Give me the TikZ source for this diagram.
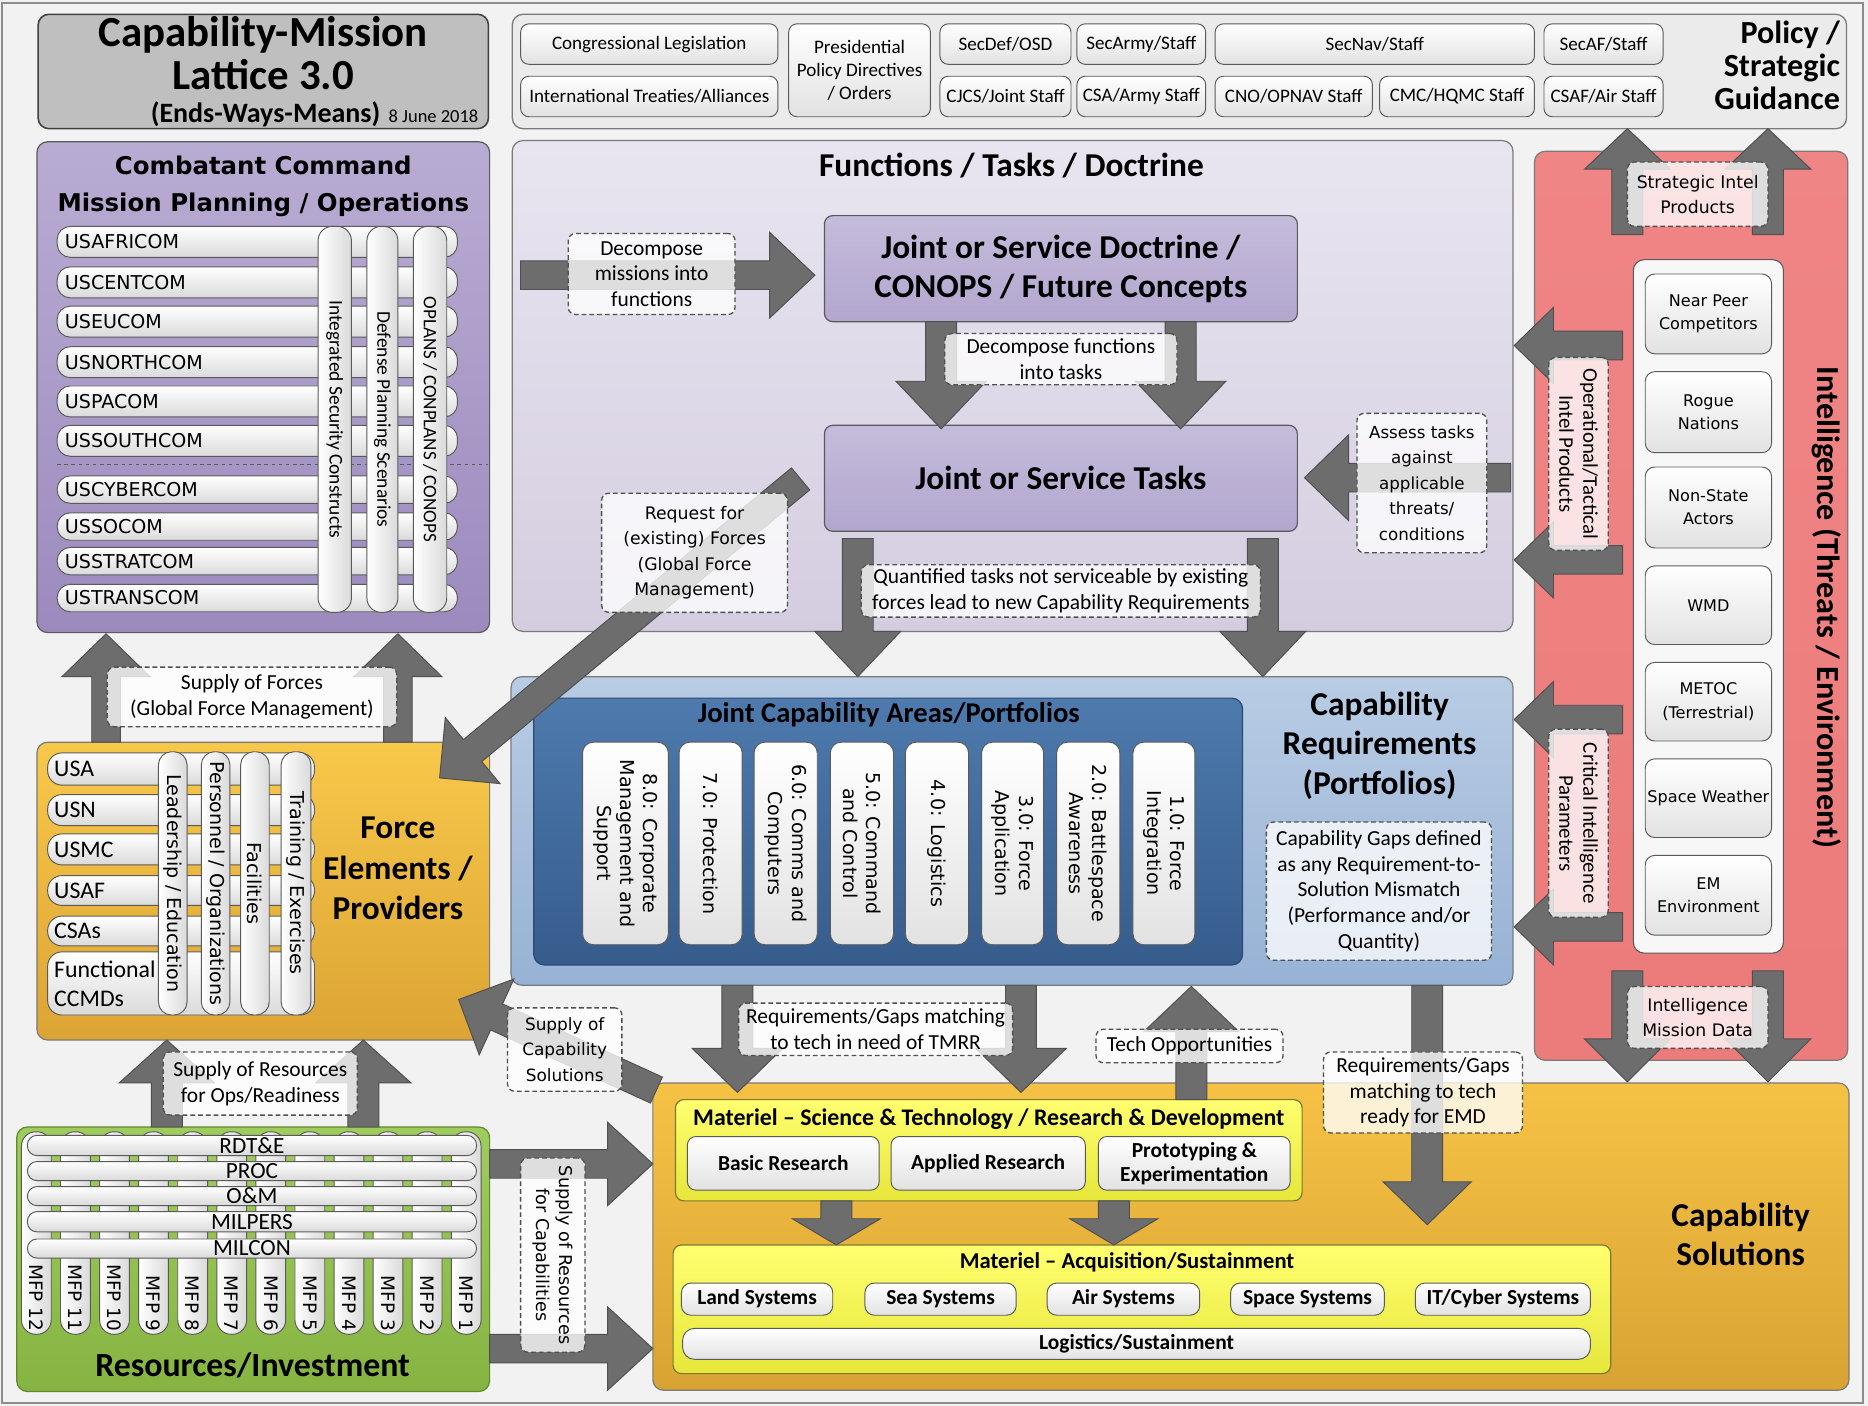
\documentclass[tikz,border=0pt]{standalone}
\usepackage{fontspec}
\setmainfont{Carlito}
\newfontfamily\vfont{DejaVu Sans}
\usetikzlibrary{calc}
\definecolor{bgc}{HTML}{F2F2F2}
\definecolor{framec}{HTML}{8C8C8C}
\definecolor{dk}{HTML}{404040}
\definecolor{bordgray}{HTML}{5A5A5A}
\definecolor{midgray}{HTML}{7A7A7A}
\definecolor{titlefill}{HTML}{BFBFBF}
\definecolor{policyfill}{HTML}{EBEBEB}
\definecolor{wbot}{HTML}{E2E2E2}
\definecolor{pbot}{HTML}{DADADA}
\definecolor{ccTop}{HTML}{B9ACD3}
\definecolor{ccBot}{HTML}{9C8ABE}
\definecolor{fnTop}{HTML}{E9E5F0}
\definecolor{fnBot}{HTML}{D4CDE0}
\definecolor{docTop}{HTML}{C5BCDB}
\definecolor{docBot}{HTML}{B2A6CE}
\definecolor{redTop}{HTML}{F08585}
\definecolor{redBot}{HTML}{EC7B7B}
\definecolor{innerc}{HTML}{F7F7F7}
\definecolor{blueTop}{HTML}{B8CCE4}
\definecolor{blueBot}{HTML}{97B2D5}
\definecolor{jcaTop}{HTML}{4E7AAD}
\definecolor{jcaBot}{HTML}{365C8C}
\definecolor{jcaBord}{HTML}{2C4A70}
\definecolor{forceTop}{HTML}{F8C84A}
\definecolor{forceBot}{HTML}{DCA434}
\definecolor{greenTop}{HTML}{9FCC5C}
\definecolor{greenBot}{HTML}{86B443}
\definecolor{greenBord}{HTML}{5E8A2A}
\definecolor{csTop}{HTML}{F6C245}
\definecolor{csBot}{HTML}{D9A333}
\definecolor{yelTop}{HTML}{FFFF70}
\definecolor{yelBot}{HTML}{E6E63A}
\definecolor{yelBord}{HTML}{7A7A30}
\definecolor{arrowgray}{HTML}{6D6D6D}
\definecolor{arrowdark}{HTML}{4F4F4F}
\definecolor{lblgray}{HTML}{505050}

\newcommand\fs[2]{\fontsize{#1}{#2}\selectfont}
% box from (x1,y1) to (x2,y2)
\newcommand\bx[7]{%
  \pgfmathsetmacro\bxw{(#4)-(#2)}%
  \pgfmathsetmacro\bxh{(#5)-(#3)}%
  \pgfmathsetmacro\bxx{((#2)+(#4))/2}%
  \pgfmathsetmacro\bxy{((#3)+(#5))/2}%
  \node[#6,minimum width=\bxw pt,minimum height=\bxh pt] (#1) at (\bxx,\bxy) {#7};}
% block arrow: tail, tip, shaft half width, head half width, head length
\newcommand\barrow[5]{%
  \coordinate (bahb) at ($(#2)!#5!(#1)$);
  \draw[blockarrow] ($(#1)!#3!90:(#2)$) -- ($(bahb)!#3!90:(#2)$) -- ($(bahb)!#4!90:(#2)$) -- (#2)
    -- ($(bahb)!#4!-90:(#2)$) -- ($(bahb)!#3!-90:(#2)$) -- ($(#1)!#3!-90:(#2)$) -- cycle;}

\tikzset{
  base/.style={inner sep=0pt,outer sep=0pt,align=center},
  wbox/.style={base,rounded corners=7pt,draw=bordgray,line width=0.8pt,top color=white,bottom color=wbot},
  pill/.style={base,rounded corners=#1,draw=bordgray,line width=0.8pt,top color=white,bottom color=pbot},
  vpill/.style={base,rounded corners=#1,draw=bordgray,line width=0.8pt,left color=white,right color=pbot},
  bigbox/.style 2 args={base,rounded corners=9pt,draw=bordgray,line width=1pt,top color=#1,bottom color=#2},
  lbl/.style={base,rounded corners=6pt,draw=lblgray,line width=1.1pt,dash pattern=on 4pt off 2.5pt,fill=white,fill opacity=0.78,text opacity=1,font=\fs{18}{21.5}},
  blockarrow/.style={fill=arrowgray,draw=arrowdark,line width=0.8pt,line join=miter},
}
\newcommand\jcol[4]{\bx{#1}{#2}{623}{#3}{793}{wbox,rounded corners=9pt}{}%
  \node[rotate=-90,font=\vfont\fs{16}{19.5},align=center] (#1t) at (#1.center) {#4};}
\newcommand\intel[4]{\bx{#1}{1381}{#2}{1487}{#3}{wbox,rounded corners=8pt,font=\vfont\fs{13.5}{19.5}}{#4}}
\newcommand\acqitem[4]{\bx{#1}{#2}{1077}{#3}{1104}{wbox,rounded corners=8pt,font=\bfseries\fs{18}{20}}{#4}}

\begin{document}
\begin{tikzpicture}[x=1pt,y=-1pt]
\useasboundingbox (0,0) rectangle (1568,1180);
\fill[bgc] (0,0) rectangle (1568,1180);
\draw[framec,line width=1.5pt] (1.5,2.5) rectangle (1564,1177.5);

% ================= Title
\bx{title}{32}{12}{410}{108}{base,rounded corners=9pt,draw=dk,line width=1.3pt,fill=titlefill}{}
\node[font=\bfseries\fs{36}{40}] (ttl1) at (221,29) {Capability-Mission};
\node[font=\bfseries\fs{36}{40}] (ttl2) at (221,63) {Lattice 3.0};
\node (ttl3) at (264,96) {{\bfseries\fs{23.5}{28}(Ends-Ways-Means)}\hspace{7pt}{\fs{15.5}{18}8 June 2018}};

% ================= Policy
\bx{policy}{430}{12}{1550}{108}{base,rounded corners=9pt,draw=midgray,line width=1.1pt,fill=policyfill}{}
\bx{pCong}{437}{20}{653}{54}{wbox,font=\fs{16}{17}}{Congressional Legislation}
\bx{pIntl}{437}{64}{653}{98}{wbox,font=\fs{16}{17}}{International Treaties/Alliances}
\bx{pPres}{662}{20}{781}{98}{wbox,font=\fs{16}{19.5}}{Presidential\\Policy Directives\\/ Orders}
\bx{pSecDef}{789}{20}{899}{54}{wbox,font=\fs{16}{17}}{SecDef/OSD}
\bx{pCJCS}{789}{64}{899}{98}{wbox,font=\fs{16}{17}}{CJCS/Joint Staff}
\bx{pSecA}{904}{20}{1012}{54}{wbox,font=\fs{16}{17}}{SecArmy/Staff}
\bx{pCSA}{904}{64}{1012}{98}{wbox,font=\fs{16}{17}}{CSA/Army Staff}
\bx{pSecN}{1020}{20}{1288}{54}{wbox,font=\fs{16}{17}}{SecNav/Staff}
\bx{pCNO}{1020}{64}{1152}{98}{wbox,font=\fs{16}{17}}{CNO/OPNAV Staff}
\bx{pCMC}{1158}{64}{1288}{98}{wbox,font=\fs{16}{17}}{CMC/HQMC Staff}
\bx{pSecAF}{1296}{20}{1396}{54}{wbox,font=\fs{16}{17}}{SecAF/Staff}
\bx{pCSAF}{1296}{64}{1396}{98}{wbox,font=\fs{16}{17}}{CSAF/Air Staff}
\node[anchor=east,align=right,font=\bfseries\fs{27}{27.5}] (polT) at (1548,55) {Policy /\\Strategic\\Guidance};

% ================= Combatant Command
\bx{cc}{31}{119}{411}{531}{bigbox={ccTop}{ccBot}}{}
\node[font=\vfont\bfseries\fs{20.5}{24}] (ccT1) at (221,139) {Combatant Command};
\node[font=\vfont\bfseries\fs{20.5}{24}] (ccT2) at (221,172) {Mission Planning / Operations};
\foreach \nm/\yc/\hh [count=\i] in {USAFRICOM/203/26,USCENTCOM/237/26,USEUCOM/270/26,USNORTHCOM/304/26,USPACOM/337/26,USSOUTHCOM/370/26,USCYBERCOM/411/23,USSOCOM/442/23,USSTRATCOM/471/23,USTRANSCOM/502/23}{
  \bx{ccr\i}{48}{\yc-\hh/2}{384}{\yc+\hh/2}{pill=11pt}{}
  \node[anchor=west,font=\vfont\fs{16}{18}] (ccn\i) at (51,\yc) {\nm};
}
\draw[bordgray,dashed,line width=0.8pt] (48,390) -- (410,390);
\bx{ccv1}{267}{190}{295}{514}{vpill=12pt}{}
\node[rotate=-90,font=\fs{16.3}{18}] (ccv1t) at (ccv1.center) {Integrated Security Constructs};
\bx{ccv2}{308}{190}{334}{514}{vpill=12pt}{}
\node[rotate=-90,font=\fs{16.3}{18}] (ccv2t) at (ccv2.center) {Defense Planning Scenarios};
\bx{ccv3}{347}{190}{375}{514}{vpill=12pt}{}
\node[rotate=-90,font=\fs{16}{18}] (ccv3t) at (ccv3.center) {OPLANS / CONPLANS / CONOPS};

% ================= Functions / Tasks / Doctrine
\bx{fn}{430}{118}{1270}{530}{bigbox={fnTop}{fnBot},draw=midgray}{}
\node[font=\bfseries\fs{28}{30}] (fnT) at (849,139) {Functions / Tasks / Doctrine};
\bx{doc}{692}{181}{1089}{270}{bigbox={docTop}{docBot},rounded corners=7pt,font=\bfseries\fs{28}{33}}{Joint or Service Doctrine /\\CONOPS / Future Concepts}
\bx{task}{692}{357}{1089}{446}{bigbox={docTop}{docBot},rounded corners=7pt,font=\bfseries\fs{28}{30}}{Joint or Service Tasks}

% ================= Intelligence
\bx{red}{1288}{127}{1551}{890}{bigbox={redTop}{redBot},draw=midgray}{}
\bx{redin}{1371}{218}{1497}{800}{base,rounded corners=9pt,draw=bordgray,line width=0.9pt,fill=innerc}{}
\intel{iNP}{230}{297}{Near Peer\\Competitors}
\intel{iRN}{312}{380}{Rogue\\Nations}
\intel{iNS}{392}{460}{Non-State\\Actors}
\intel{iWMD}{475}{541}{WMD}
\intel{iMET}{556}{622}{METOC\\(Terrestrial)}
\intel{iSW}{637}{703}{Space Weather}
\intel{iEM}{718}{785}{EM\\Environment}
\node[rotate=-90,font=\bfseries\fs{27}{30}] (redT) at (1533,510) {Intelligence (Threats / Environment)};

% ================= Capability Requirements
\bx{cr}{429}{568}{1270}{827}{bigbox={blueTop}{blueBot},draw=midgray}{}
\bx{jca}{448}{586}{1043}{810}{bigbox={jcaTop}{jcaBot},draw=jcaBord}{}
\node[font=\bfseries\fs{24}{26}] (jcaT) at (746,600) {Joint Capability Areas/Portfolios};
\jcol{j8}{489}{561}{8.0: Corporate\\Management and\\Support}
\jcol{j7}{570}{623}{7.0: Protection}
\jcol{j6}{633}{686}{6.0: Comms and\\Computers}
\jcol{j5}{697}{750}{5.0: Command\\and Control}
\jcol{j4}{760}{813}{4.0: Logistics}
\jcol{j3}{824}{876}{3.0: Force\\Application}
\jcol{j2}{887}{940}{2.0: Battlespace\\Awareness}
\jcol{j1}{951}{1003}{1.0: Force\\Integration}
\node[font=\bfseries\fs{28}{33},align=center] (crT) at (1158,626) {Capability\\Requirements\\(Portfolios)};

% ================= Force Elements
\bx{fe}{31}{623}{411}{873}{bigbox={forceTop}{forceBot},draw=midgray}{}
\foreach \nm/\ya/\yb [count=\i] in {USA/632/659,USN/667/693,USMC/700/726,USAF/735/760,CSAs/769/794}{
  \bx{fer\i}{40}{\ya}{264}{\yb}{pill=12pt}{}
  \node[anchor=west,font=\fs{20}{22}] (fen\i) at (42,{(\ya+\yb)/2}) {\nm};
}
\bx{fer6}{40}{799}{264}{852}{pill=12pt}{}
\node[anchor=west,align=left,font=\fs{20}{24}] (fen6) at (42,826) {Functional\\CCMDs};
\bx{fev1}{133}{631}{157}{852}{vpill=11pt}{}
\node[rotate=-90,font=\vfont\fs{16}{18}] (fev1t) at (fev1.center) {Leadership / Education};
\bx{fev2}{169}{631}{193}{852}{vpill=11pt}{}
\node[rotate=-90,font=\vfont\fs{16}{18}] (fev2t) at (fev2.center) {Personnel / Organizations};
\bx{fev3}{202}{631}{226}{852}{vpill=11pt}{}
\node[rotate=-90,font=\vfont\fs{16}{18}] (fev3t) at (fev3.center) {Facilities};
\bx{fev4}{236}{631}{261}{852}{vpill=11pt}{}
\node[rotate=-90,font=\vfont\fs{16}{18}] (fev4t) at (fev4.center) {Training / Exercises};
\node[font=\bfseries\fs{28}{34},align=center] (feT) at (334,729) {Force\\Elements /\\Providers};

% ================= Resources / Investment
\bx{ri}{14}{946}{411}{1168}{bigbox={greenTop}{greenBot},draw=greenBord}{}
\foreach \i in {0,...,11}{
  \pgfmathsetmacro\xl{18+32.8*\i}
  \pgfmathtruncatemacro\mm{12-\i}
  \bx{mfp\i}{\xl}{950}{\xl+25}{1120}{vpill=12pt}{}
  \node[rotate=-90,anchor=east,font=\vfont\fs{15.5}{16}] (mfpt\i) at (\xl+12.5,1121) {MFP \mm};
}
\foreach \nm/\ya/\yb [count=\i] in {RDT\&E/953/970,PROC/975/991,O\&M/996/1012,MILPERS/1017/1034,MILCON/1040/1056}{
  \bx{rir\i}{23}{\ya}{400}{\yb}{pill=8pt,font=\fs{19.5}{18}}{\nm}
}
\node[font=\bfseries\fs{28.4}{30}] (riT) at (212,1146) {Resources/Investment};

% ================= Capability Solutions
\bx{cs}{548}{909}{1552}{1167}{bigbox={csTop}{csBot},draw=midgray}{}
\node[font=\bfseries\fs{28}{33},align=center] (csT) at (1461,1036) {Capability\\Solutions};
\bx{st}{567}{923}{1093}{1008}{bigbox={yelTop}{yelBot},rounded corners=7pt,draw=yelBord}{}
\node[font=\bfseries\fs{20}{20}] (stT) at (830,939) {Materiel – Science \& Technology / Research \& Development};
\bx{stB}{577}{954}{738}{999}{wbox,font=\bfseries\fs{18}{20}}{Basic Research}
\bx{stA}{748}{954}{911}{999}{wbox,font=\bfseries\fs{18}{20}}{Applied Research}
\bx{stP}{922}{954}{1083}{999}{wbox,font=\bfseries\fs{18}{20}}{Prototyping \&\\Experimentation}
\bx{acq}{565}{1045}{1352}{1153}{bigbox={yelTop}{yelBot},rounded corners=7pt,draw=yelBord}{}
\node[font=\bfseries\fs{19}{20}] (acqT) at (946,1060) {Materiel – Acquisition/Sustainment};
\acqitem{aLand}{572}{699}{Land Systems}
\acqitem{aSea}{726}{853}{Sea Systems}
\acqitem{aAir}{879}{1007}{Air Systems}
\acqitem{aSpace}{1033}{1162}{Space Systems}
\acqitem{aIT}{1188}{1335}{IT/Cyber Systems}
\bx{aLog}{573}{1115}{1335}{1141}{wbox,rounded corners=10pt,font=\bfseries\fs{18}{19}}{Logistics/Sustainment}

% ================= Block arrows
\coordinate (aDMt) at (437,231); \coordinate (aDMh) at (684,231);
\barrow{aDMt}{aDMh}{12pt}{36pt}{38pt}
\coordinate (aDF1t) at (790,270); \coordinate (aDF1h) at (790,360);
\coordinate (aDF2t) at (991,270); \coordinate (aDF2h) at (991,360);
\barrow{aDF1t}{aDF1h}{13pt}{38pt}{40pt}
\barrow{aDF2t}{aDF2h}{13pt}{38pt}{40pt}
\coordinate (aQT1t) at (720,452); \coordinate (aQT1h) at (720,568);
\coordinate (aQT2t) at (1060,452); \coordinate (aQT2h) at (1060,568);
\barrow{aQT1t}{aQT1h}{13pt}{36pt}{38pt}
\barrow{aQT2t}{aQT2h}{13pt}{36pt}{38pt}
\coordinate (aRFt) at (672,402); \coordinate (aRFh) at (369,653);
\barrow{aRFt}{aRFh}{12pt}{36pt}{36pt}
\coordinate (aSF1t) at (89,623); \coordinate (aSF1h) at (89,532);
\coordinate (aSF2t) at (334,623); \coordinate (aSF2h) at (334,532);
\barrow{aSF1t}{aSF1h}{12pt}{37pt}{36pt}
\barrow{aSF2t}{aSF2h}{12pt}{37pt}{36pt}
\coordinate (aSR1t) at (140,946); \coordinate (aSR1h) at (140,873);
\coordinate (aSR2t) at (305,946); \coordinate (aSR2h) at (305,873);
\barrow{aSR1t}{aSR1h}{13pt}{40pt}{36pt}
\barrow{aSR2t}{aSR2h}{13pt}{40pt}{36pt}
\coordinate (aRC1t) at (411,977); \coordinate (aRC1h) at (548,977);
\coordinate (aRC2t) at (411,1132); \coordinate (aRC2h) at (548,1132);
\barrow{aRC1t}{aRC1h}{12pt}{35pt}{38pt}
\barrow{aRC2t}{aRC2h}{12pt}{35pt}{38pt}
\coordinate (aSCt) at (551,915); \coordinate (aSCh) at (385,839);
\barrow{aSCt}{aSCh}{12pt}{35pt}{35pt}
\coordinate (aTM1t) at (619,827); \coordinate (aTM1h) at (619,917);
\coordinate (aTM2t) at (857,827); \coordinate (aTM2h) at (857,917);
\barrow{aTM1t}{aTM1h}{13pt}{38pt}{37pt}
\barrow{aTM2t}{aTM2h}{13pt}{38pt}{37pt}
\coordinate (aTOt) at (1000,923); \coordinate (aTOh) at (1000,828);
\barrow{aTOt}{aTOh}{13pt}{40pt}{38pt}
\coordinate (aEMt) at (1198,827); \coordinate (aEMh) at (1198,1028);
\barrow{aEMt}{aEMh}{13pt}{37pt}{36pt}
\coordinate (aSA1t) at (702,1008); \coordinate (aSA1h) at (702,1045);
\coordinate (aSA2t) at (935,1008); \coordinate (aSA2h) at (935,1045);
\barrow{aSA1t}{aSA1h}{13pt}{37pt}{22pt}
\barrow{aSA2t}{aSA2h}{13pt}{37pt}{22pt}
\coordinate (aATt) at (1268,401); \coordinate (aATh) at (1095,401);
\barrow{aATt}{aATh}{12pt}{36pt}{37pt}
\coordinate (aOp1t) at (1362,290); \coordinate (aOp1h) at (1271,290);
\coordinate (aOp2t) at (1362,470); \coordinate (aOp2h) at (1271,470);
\barrow{aOp1t}{aOp1h}{12pt}{32pt}{33pt}
\barrow{aOp2t}{aOp2h}{12pt}{32pt}{33pt}
\coordinate (aCr1t) at (1362,604); \coordinate (aCr1h) at (1271,604);
\coordinate (aCr2t) at (1362,778); \coordinate (aCr2h) at (1271,778);
\barrow{aCr1t}{aCr1h}{12pt}{32pt}{33pt}
\barrow{aCr2t}{aCr2h}{12pt}{32pt}{33pt}
\coordinate (aSI1t) at (1366,197); \coordinate (aSI1h) at (1366,108);
\coordinate (aSI2t) at (1484,197); \coordinate (aSI2h) at (1484,108);
\barrow{aSI1t}{aSI1h}{13pt}{36pt}{34pt}
\barrow{aSI2t}{aSI2h}{13pt}{36pt}{34pt}
\coordinate (aIM1t) at (1366,815); \coordinate (aIM1h) at (1366,908);
\coordinate (aIM2t) at (1484,815); \coordinate (aIM2h) at (1484,908);
\barrow{aIM1t}{aIM1h}{13pt}{36pt}{36pt}
\barrow{aIM2t}{aIM2h}{13pt}{36pt}{36pt}

% ================= Labels
\bx{lDM}{477}{196}{617}{264}{lbl}{Decompose\\missions into\\functions}
\bx{lDF}{793}{280}{988}{323}{lbl}{Decompose functions\\into tasks}
\bx{lQT}{723}{474}{1058}{518}{lbl}{Quantified tasks not serviceable by existing\\forces lead to new Capability Requirements}
\bx{lRF}{505}{414}{661}{514}{lbl,font=\vfont\fs{14.5}{21.5}}{Request for\\(existing) Forces\\(Global Force\\Management)}
\bx{lAT}{1139}{347}{1248}{464}{lbl,font=\vfont\fs{14}{21.5}}{Assess tasks\\against\\applicable\\threats/\\conditions}
\bx{lSF}{90}{560}{333}{610}{lbl}{Supply of Forces\\(Global Force Management)}
\bx{lSR}{137}{883}{300}{936}{lbl}{Supply of Resources\\for Ops/Readiness}
\bx{lSC}{426}{846}{522}{916}{lbl,font=\vfont\fs{14.2}{21.5}}{Supply of\\Capability\\Solutions}
\bx{lRC}{437}{972}{491}{1135}{lbl}{}
\node[rotate=-90,align=center,font=\vfont\fs{14.8}{20}] (lRCt) at (lRC.center) {Supply of Resources\\for Capabilities};
\bx{lTM}{620}{842}{850}{886}{lbl}{Requirements/Gaps matching\\to tech in need of TMRR}
\bx{lTO}{920}{864}{1077}{892}{lbl}{Tech Opportunities}
\bx{lEMD}{1111}{883}{1278}{951}{lbl}{Requirements/Gaps\\matching to tech\\ready for EMD}
\bx{lGap}{1063}{690}{1252}{806}{lbl}{Capability Gaps defined\\as any Requirement-to-\\Solution Mismatch\\(Performance and/or\\Quantity)}
\bx{lSI}{1366}{136}{1484}{190}{lbl,font=\vfont\fs{14.5}{21}}{Strategic Intel\\Products}
\bx{lIM}{1366}{828}{1484}{880}{lbl,font=\vfont\fs{14.5}{21}}{Intelligence\\Mission Data}
\bx{lOp}{1300}{300}{1350}{462}{lbl}{}
\node[rotate=-90,align=center,font=\fs{17.5}{20}] (lOpt) at (lOp.center) {Operational/Tactical\\Intel Products};
\bx{lCr}{1300}{612}{1350}{770}{lbl}{}
\node[rotate=-90,align=center,font=\fs{17.5}{20}] (lCrt) at (lCr.center) {Critical Intelligence\\Parameters};
\end{tikzpicture}
\end{document}
